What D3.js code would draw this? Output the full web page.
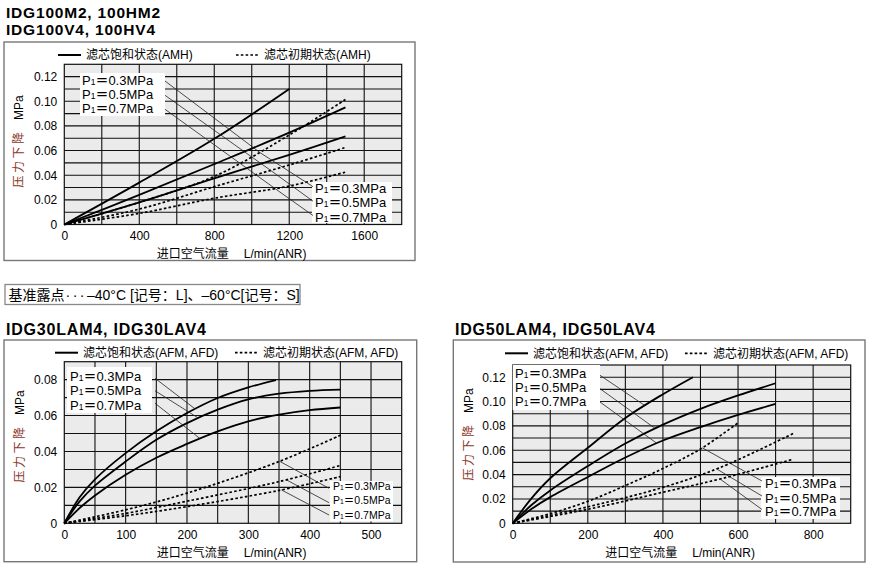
<!DOCTYPE html>
<html>
<head>
<meta charset="utf-8">
<script src="https://cdn.jsdelivr.net/npm/d3@7"></script>
<style>
  body { margin: 0; background: #fff; }
  svg { display: block; }
</style>
</head>
<body>
<script>
// Pressure-drop charts for IDG membrane dryers, three panels drawn with D3.

const FONT = "'Liberation Sans', Arial, 'Noto Sans CJK SC', sans-serif";

// ---------- DATA (flow L/min(ANR), pressure drop MPa) ----------
const pressures = ["0.3", "0.5", "0.7"];

// IDG100M2 / 100HM2 / 100V4 / 100HV4
const amhSat03 = [[0, 0], [400, 0.034], [800, 0.0695], [1200, 0.11]];
const amhSat05 = [[0, 0], [400, 0.024], [800, 0.049], [1200, 0.0745], [1500, 0.095]];
const amhSat07 = [[0, 0], [400, 0.018], [800, 0.0375], [1200, 0.0565], [1500, 0.0715]];
const amhIni03 = [[0, 0], [400, 0.018], [800, 0.039], [1200, 0.0726], [1500, 0.1015]];
const amhIni05 = [[0, 0], [400, 0.0125], [800, 0.0307], [1200, 0.0483], [1500, 0.0625]];
const amhIni07 = [[0, 0], [400, 0.009], [800, 0.0213], [1200, 0.0312], [1500, 0.0425]];

// IDG30LAM4 / IDG30LAV4
const afm30Sat03 = [[0, 0], [25, 0.0145], [50, 0.0245], [100, 0.0391], [150, 0.0512], [200, 0.0614], [250, 0.0698], [300, 0.0757], [345, 0.0798]];
const afm30Sat05 = [[0, 0], [25, 0.0122], [50, 0.021], [100, 0.0344], [150, 0.0465], [200, 0.0558], [250, 0.0633], [300, 0.069], [350, 0.0722], [400, 0.0738], [450, 0.0745]];
const afm30Sat07 = [[0, 0], [25, 0.0085], [50, 0.0155], [100, 0.027], [150, 0.0365], [200, 0.0442], [250, 0.0512], [300, 0.0568], [350, 0.0605], [400, 0.063], [450, 0.0645]];
const afm30Ini03 = [[0, 0], [100, 0.0075], [200, 0.0168], [350, 0.0344], [450, 0.049]];
const afm30Ini05 = [[0, 0], [100, 0.0055], [200, 0.0123], [350, 0.0232], [450, 0.0322]];
const afm30Ini07 = [[0, 0], [100, 0.0042], [200, 0.0093], [350, 0.0183], [450, 0.026]];

// IDG50LAM4 / IDG50LAV4
const afm50Sat03 = [[0, 0], [50, 0.0205], [100, 0.037], [200, 0.062], [300, 0.0865], [400, 0.106], [480, 0.12]];
const afm50Sat05 = [[0, 0], [50, 0.0150], [100, 0.027], [200, 0.047], [300, 0.0655], [400, 0.081], [500, 0.094], [600, 0.105], [700, 0.115]];
const afm50Sat07 = [[0, 0], [50, 0.0118], [100, 0.0215], [200, 0.038], [300, 0.054], [400, 0.068], [500, 0.079], [600, 0.089], [700, 0.098]];
const afm50Ini03 = [[0, 0], [100, 0.008], [200, 0.018], [300, 0.031], [400, 0.045], [500, 0.061], [600, 0.0825]];
const afm50Ini05 = [[0, 0], [200, 0.0135], [400, 0.0295], [550, 0.0455], [750, 0.0742]];
const afm50Ini07 = [[0, 0], [200, 0.0115], [400, 0.0255], [560, 0.037], [745, 0.0525]];

// flow values where the label leader lines touch the curves
const leadAt100 = [1043, 1101, 1125];
const leadUp30 = [213, 218, 221];
const leadLow30 = [351, 362, 354];
const leadUp50 = [351, 379, 383];
const leadLow50 = [505, 543, 552];

// ticks
const ticksX100 = [0, 400, 800, 1200, 1600];
const ticksY100 = [0, 0.02, 0.04, 0.06, 0.08, 0.10, 0.12];
const ticksX30 = [0, 100, 200, 300, 400, 500];
const ticksY30 = [0, 0.02, 0.04, 0.06, 0.08];
const ticksX50 = [0, 200, 400, 600, 800];
const ticksY50 = [0, 0.02, 0.04, 0.06, 0.08, 0.10, 0.12];

// texts
const titles100 = ["IDG100M2, 100HM2", "IDG100V4, 100HV4"];
const title30 = "IDG30LAM4, IDG30LAV4";
const title50 = "IDG50LAM4, IDG50LAV4";
const legendAmh = ["滤芯饱和状态(AMH)", "滤芯初期状态(AMH)"];
const legendAfm = ["滤芯饱和状态(AFM, AFD)", "滤芯初期状态(AFM, AFD)"];
const xTitle = ["进口空气流量", "L/min(ANR)"];
const yTitle = ["压力下降", "MPa"];
const noteText = ["基准露点", "···", "–40°C [记号：L]、–60°C[记号：S]"];

// ---------- LAYOUT ----------
const panels = [
  {
    frame: [4, 42, 415, 260.5], plot: [64.3, 64.3, 401.7, 224.5],
    xDomain: [0, 1800], xStep: 200, yDomain: [0, 0.13], yStep: 0.01,
    xTicks: ticksX100, yTicks: ticksY100,
    legend: { y: 55, xs: [58, 236], texts: legendAmh },
    sat: [amhSat03, amhSat05, amhSat07], ini: [amhIni03, amhIni05, amhIni07],
    yTitleAt: [18.3, 141.5],
    upper: { box: [80, 73, 165, 116], textX: 82, rows: [80, 94.3, 108.3], font: 13,
             start: [[165, 81], [165, 95.3], [165, 109.3]], on: "ini", at: leadAt100 },
    lower: { box: [312, 182, 392, 223], textX: 315, rows: [188.5, 202.7, 217], font: 13,
             end: [[313, 186.7], [313, 201.2], [313, 215.5]], at: leadAt100 }
  },
  {
    frame: [4, 340, 416.7, 561.7], plot: [64.3, 361.7, 401.7, 523.3],
    xDomain: [0, 550], xStep: 50, yDomain: [0, 0.09], yStep: 0.01,
    xTicks: ticksX30, yTicks: ticksY30,
    legend: { y: 352.7, xs: [55, 235], texts: legendAfm },
    sat: [afm30Sat03, afm30Sat05, afm30Sat07], ini: [afm30Ini03, afm30Ini05, afm30Ini07],
    yTitleAt: [20, 436.5],
    upper: { box: [67, 367, 152, 413], textX: 70, rows: [376.7, 390.7, 405], font: 13,
             start: [[155, 378.3], [155, 390.7], [155, 403.3]], on: "sat", at: leadUp30 },
    lower: { box: [330, 481, 393, 521.5], textX: 333, rows: [486.7, 500.7, 515], font: 10.5,
             end: [[329, 488.3], [329, 502.7], [329, 515]], at: leadLow30 }
  },
  {
    frame: [453.3, 340, 865, 562], plot: [512.7, 365, 850.7, 523.3],
    xDomain: [0, 900], xStep: 100, yDomain: [0, 0.13], yStep: 0.01,
    xTicks: ticksX50, yTicks: ticksY50,
    legend: { y: 353.3, xs: [505, 685], texts: legendAfm },
    sat: [afm50Sat03, afm50Sat05, afm50Sat07], ini: [afm50Ini03, afm50Ini05, afm50Ini07],
    yTitleAt: [468.3, 434.5],
    upper: { box: [512.7, 365, 600, 410], textX: 515, rows: [373.7, 387, 401.3], font: 13,
             start: [[600, 375.3], [600, 388.7], [600, 402]], on: "sat", at: leadUp50 },
    lower: { box: [761, 477, 840, 519], textX: 765, rows: [483.7, 498, 511.3], font: 13,
             end: [[762, 481], [762, 496], [762, 509.5]], at: leadLow50 }
  }
];

const svg = d3.select("body").append("svg")
  .attr("width", 873).attr("height", 567)
  .style("font-family", FONT);

// titles
svg.selectAll(".title100").data(titles100).enter().append("text")
  .attr("x", 6).attr("y", (d, i) => 17.5 + i * 17.5)
  .attr("font-size", 15.5).attr("font-weight", "bold").attr("letter-spacing", 0.8)
  .text((d) => d);
svg.append("text").attr("x", 6).attr("y", 334.5)
  .attr("font-size", 16).attr("font-weight", "bold").attr("letter-spacing", 0.8).text(title30);
svg.append("text").attr("x", 455).attr("y", 334.5)
  .attr("font-size", 16).attr("font-weight", "bold").attr("letter-spacing", 0.8).text(title50);

// dew point note
svg.append("rect").attr("x", 5).attr("y", 284.5).attr("width", 295).attr("height", 20)
  .attr("fill", "#fff").attr("stroke", "#888").attr("stroke-width", 1.3);
const note = svg.append("text").attr("x", 8.5).attr("y", 299.5).attr("font-size", 14);
note.append("tspan").text(noteText[0]);
note.append("tspan").attr("letter-spacing", 2.5).attr("dx", 1).text(noteText[1]);
note.append("tspan").text(noteText[2]);

// find the point of a path at a given screen x (curves are monotone in x)
function pointOnPath(node, px) {
  let lo = 0, hi = node.getTotalLength();
  for (let i = 0; i < 40; i++) {
    const mid = (lo + hi) / 2;
    if (node.getPointAtLength(mid).x < px) lo = mid; else hi = mid;
  }
  return node.getPointAtLength((lo + hi) / 2);
}

function labelText(g, x, y, p, size) {
  const t = g.append("text").attr("x", x).attr("y", y).attr("dy", "0.36em")
    .attr("font-size", size);
  t.append("tspan").text("P");
  t.append("tspan").attr("font-size", size * 0.65).text("1");
  t.append("tspan").attr("font-weight", "bold").text("＝");
  t.append("tspan").text(p + "MPa");
}

panels.forEach((cfg) => {
  const [fx0, fy0, fx1, fy1] = cfg.frame;
  const [pl, pt, pr, pb] = cfg.plot;
  const g = svg.append("g");

  g.append("rect").attr("x", fx0).attr("y", fy0)
    .attr("width", fx1 - fx0).attr("height", fy1 - fy0)
    .attr("fill", "#fff").attr("stroke", "#777").attr("stroke-width", 1.4);

  const x = d3.scaleLinear().domain(cfg.xDomain).range([pl, pr]);
  const y = d3.scaleLinear().domain(cfg.yDomain).range([pb, pt]);

  g.append("rect").attr("x", pl).attr("y", pt).attr("width", pr - pl).attr("height", pb - pt)
    .attr("fill", "#ebebeb");

  // grid
  const gx = d3.range(cfg.xDomain[0] + cfg.xStep, cfg.xDomain[1] - cfg.xStep / 2, cfg.xStep);
  const gy = d3.range(1, Math.round(cfg.yDomain[1] / cfg.yStep)).map((k) => k * cfg.yStep);
  g.selectAll(".vg").data(gx).enter().append("line")
    .attr("x1", (d) => x(d)).attr("x2", (d) => x(d)).attr("y1", pt).attr("y2", pb)
    .attr("stroke", "#111").attr("stroke-width", 1.1);
  g.selectAll(".hg").data(gy).enter().append("line")
    .attr("x1", pl).attr("x2", pr).attr("y1", (d) => y(d)).attr("y2", (d) => y(d))
    .attr("stroke", "#111").attr("stroke-width", 1.1);
  g.append("rect").attr("x", pl).attr("y", pt).attr("width", pr - pl).attr("height", pb - pt)
    .attr("fill", "none").attr("stroke", "#111").attr("stroke-width", 1.2);

  // label boxes (white, hide the grid)
  [cfg.upper, cfg.lower].forEach((lb) => {
    g.append("rect").attr("x", lb.box[0]).attr("y", lb.box[1])
      .attr("width", lb.box[2] - lb.box[0]).attr("height", lb.box[3] - lb.box[1])
      .attr("fill", "#fff");
  });

  // curves
  const line = d3.line().x((d) => x(d[0])).y((d) => y(d[1])).curve(d3.curveCatmullRom.alpha(0.5));
  const satPaths = cfg.sat.map((s) => g.append("path").datum(s).attr("d", line)
    .attr("fill", "none").attr("stroke", "#000").attr("stroke-width", 1.8).node());
  const iniPaths = cfg.ini.map((s) => g.append("path").datum(s).attr("d", line)
    .attr("fill", "none").attr("stroke", "#000").attr("stroke-width", 1.7)
    .attr("stroke-dasharray", "2.6,2.2").node());

  // leaders
  const lowPts = cfg.lower.at.map((v, i) => pointOnPath(iniPaths[i], x(v)));
  const upPaths = cfg.upper.on === "sat" ? satPaths : iniPaths;
  const upPts = cfg.upper.at.map((v, i) => pointOnPath(upPaths[i], x(v)));
  pressures.forEach((p, i) => {
    const s = cfg.upper.start[i];
    g.append("line").attr("x1", s[0]).attr("y1", s[1]).attr("x2", upPts[i].x).attr("y2", upPts[i].y)
      .attr("stroke", "#222").attr("stroke-width", 0.8);
    const e = cfg.lower.end[i];
    g.append("line").attr("x1", lowPts[i].x).attr("y1", lowPts[i].y).attr("x2", e[0]).attr("y2", e[1])
      .attr("stroke", "#222").attr("stroke-width", 0.8);
    labelText(g, cfg.upper.textX, cfg.upper.rows[i], p, cfg.upper.font);
    labelText(g, cfg.lower.textX, cfg.lower.rows[i], p, cfg.lower.font);
  });

  // axes (labels only)
  const ax = g.append("g").attr("transform", `translate(0,${pb})`)
    .call(d3.axisBottom(x).tickValues(cfg.xTicks).tickSize(0).tickPadding(7).tickFormat(d3.format("d")));
  const ay = g.append("g").attr("transform", `translate(${pl},0)`)
    .call(d3.axisLeft(y).tickValues(cfg.yTicks).tickSize(0).tickPadding(7)
      .tickFormat((d) => (d === 0 ? "0" : d3.format(".2f")(d))));
  [ax, ay].forEach((a) => {
    a.select(".domain").remove();
    a.selectAll("text").attr("font-size", 12).attr("font-family", FONT).attr("fill", "#000");
  });

  // axis titles
  const xt = g.append("text").attr("x", pl + 92.5).attr("y", pb + 29).attr("dy", "0.36em")
    .attr("font-size", 12);
  xt.append("tspan").text(xTitle[0]);
  xt.append("tspan").attr("dx", 15).text(xTitle[1]);

  const yt = g.append("text")
    .attr("transform", `translate(${cfg.yTitleAt[0]},${cfg.yTitleAt[1]}) rotate(-90)`)
    .attr("text-anchor", "middle").attr("dy", "0.36em").attr("font-size", 12);
  yt.append("tspan").attr("fill", "#8b3a2b").attr("letter-spacing", 2.5).text(yTitle[0]);
  yt.append("tspan").attr("dx", 9.5).attr("fill", "#000").text(yTitle[1]);

  // legend
  cfg.legend.xs.forEach((lx, i) => {
    g.append("line").attr("x1", lx).attr("x2", lx + 23)
      .attr("y1", cfg.legend.y).attr("y2", cfg.legend.y)
      .attr("stroke", "#000").attr("stroke-width", i === 0 ? 2 : 1.7)
      .attr("stroke-dasharray", i === 0 ? null : "2.6,2.2");
    g.append("text").attr("x", lx + 28).attr("y", cfg.legend.y).attr("dy", "0.36em")
      .attr("font-size", 12).text(cfg.legend.texts[i]);
  });
});
</script>
</body>
</html>
